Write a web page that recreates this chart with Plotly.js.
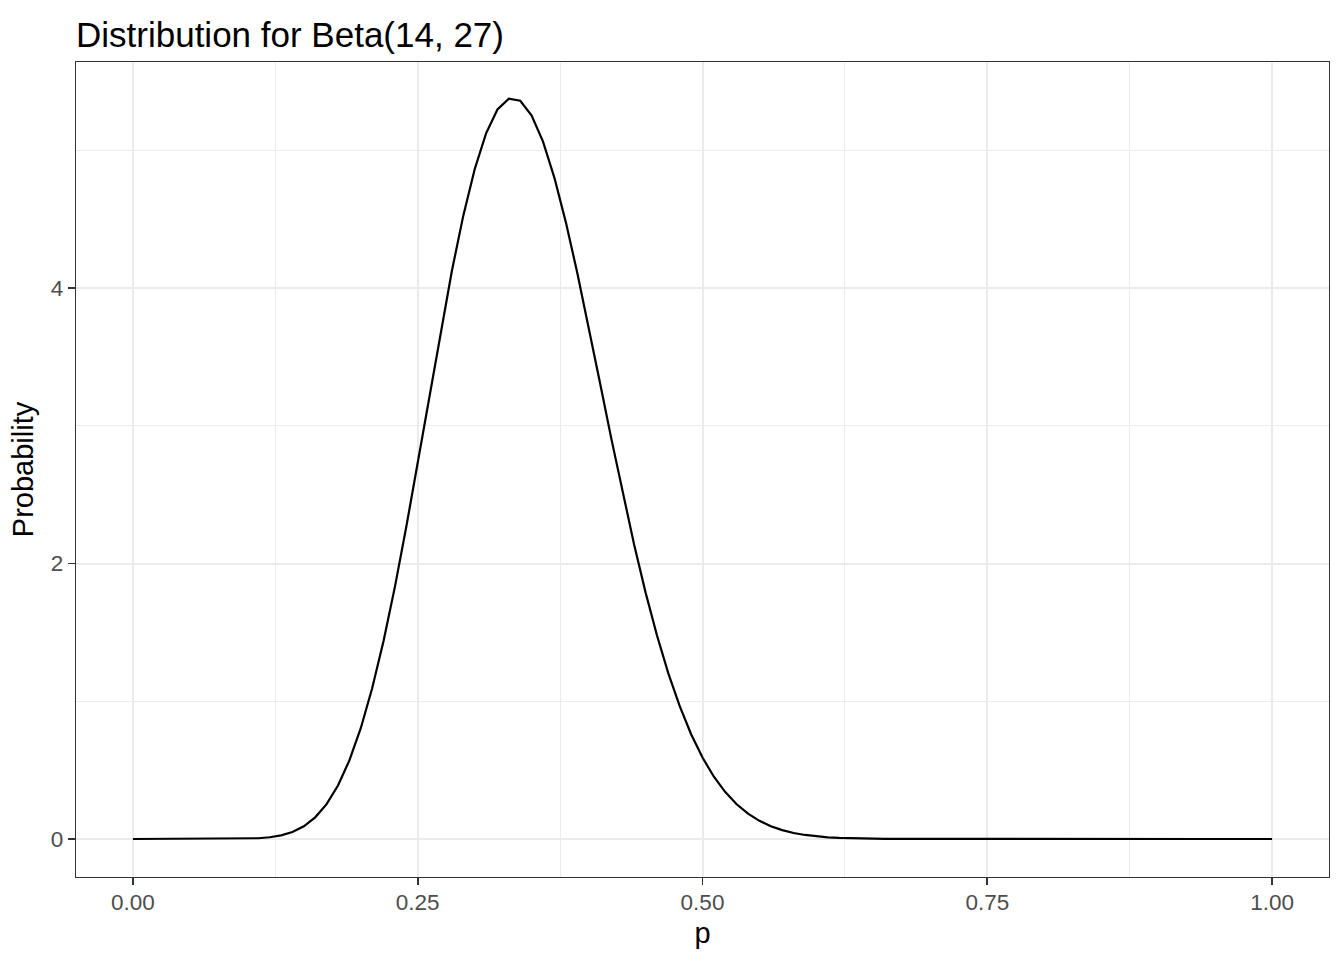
<!DOCTYPE html>
<html>
<head>
<meta charset="utf-8">
<script src="https://cdn.plot.ly/plotly-3.0.1.min.js"></script>
<style>html,body{margin:0;padding:0;background:#fff;}#chart{width:1344px;height:960px;}</style>
</head>
<body>
<div id="chart"></div>
<script>
var p = [0.00,0.01,0.02,0.03,0.04,0.05,0.06,0.07,0.08,0.09,
0.10,0.11,0.12,0.13,0.14,0.15,0.16,0.17,0.18,0.19,
0.20,0.21,0.22,0.23,0.24,0.25,0.26,0.27,0.28,0.29,
0.30,0.31,0.32,0.33,0.34,0.35,0.36,0.37,0.38,0.39,
0.40,0.41,0.42,0.43,0.44,0.45,0.46,0.47,0.48,0.49,
0.50,0.51,0.52,0.53,0.54,0.55,0.56,0.57,0.58,0.59,
0.60,0.61,0.62,0.63,0.64,0.65,0.66,0.67,0.68,0.69,
0.70,0.71,0.72,0.73,0.74,0.75,0.76,0.77,0.78,0.79,
0.80,0.81,0.82,0.83,0.84,0.85,0.86,0.87,0.88,0.89,
0.90,0.91,0.92,0.93,0.94,0.95,0.96,0.97,0.98,0.99,1.00];

var probability = [0,0,0,0,0.0000001,0.000001,0.0000085,0.0000477,0.000204,0.000712,
0.00210,0.00542,0.01252,0.02634,0.05109,0.09242,0.15724,0.25329,0.38857,0.57039,
0.80442,1.0937,1.4378,1.8322,2.2681,2.7325,3.2094,3.6803,4.1254,4.5255,
4.8628,5.1232,5.2960,5.3750,5.3596,5.2528,5.0627,4.7999,4.4786,4.1132,
3.7194,3.3119,2.9048,2.5095,2.1356,1.7904,1.4786,1.2028,0.9638,0.7605,
0.5910,0.4521,0.3405,0.2523,0.1839,0.1318,0.0929,0.0643,0.0437,0.0292,
0.0191,0.01226,0.00771,0.00475,0.00286,0.00168,0.000965,0.000540,0.000294,0.000156,
0.000080,0.000040,0.000019,0,0,0,0,0,0,0,
0,0,0,0,0,0,0,0,0,0,
0,0,0,0,0,0,0,0,0,0,0];

var xTicks = [0, 0.25, 0.5, 0.75, 1];
var xTickLabels = ["0.00", "0.25", "0.50", "0.75", "1.00"];
var yTicks = [0, 2, 4];
var yTickLabels = ["0", "2", "4"];

var titleText = "Distribution for Beta(14, 27)";
var xTitle = "p";
var yTitle = "Probability";

var FONT = "Liberation Sans, Arial, Helvetica, sans-serif";

var trace = {
  x: p, y: probability, type: "scatter", mode: "lines",
  line: {color: "#000000", width: 2.2}, hoverinfo: "skip", showlegend: false
};

var axisCommon = {
  showline: true, linecolor: "#333333", linewidth: 1.3, mirror: true,
  ticks: "outside", ticklen: 7, tickwidth: 1.6, tickcolor: "#333333",
  tickfont: {family: FONT, size: 22.5, color: "#4D4D4D"},
  showgrid: true, gridcolor: "#EBEBEB", gridwidth: 2,
  zeroline: false, tickmode: "array"
};

var layout = {
  width: 1344, height: 960,
  paper_bgcolor: "#FFFFFF", plot_bgcolor: "#FFFFFF",
  margin: {l: 76, r: 15, t: 62, b: 83},
  title: {text: titleText, font: {family: FONT, size: 35, color: "#000000"},
    xref: "paper", x: 0, xanchor: "left", yref: "paper", y: 1, yanchor: "bottom", pad: {b: 15}},
  xaxis: Object.assign({}, axisCommon, {
    range: [-0.05, 1.05], tickvals: xTicks, ticktext: xTickLabels, ticklabelstandoff: -2,
    minor: {tickmode: "array", tickvals: [0.125, 0.375, 0.625, 0.875], showgrid: true, gridcolor: "#EBEBEB", gridwidth: 1, ticks: ""},
    title: {text: xTitle, font: {family: FONT, size: 29, color: "#000000"}, standoff: 8}
  }),
  yaxis: Object.assign({}, axisCommon, {
    range: [-0.276, 5.641], tickvals: yTicks, ticktext: yTickLabels,
    minor: {tickmode: "array", tickvals: [1, 3, 5], showgrid: true, gridcolor: "#EBEBEB", gridwidth: 1, ticks: ""},
    title: {text: yTitle, font: {family: FONT, size: 29, color: "#000000"}, standoff: 8}
  })
};

Plotly.newPlot("chart", [trace], layout, {displayModeBar: false, staticPlot: true});
</script>
</body>
</html>
